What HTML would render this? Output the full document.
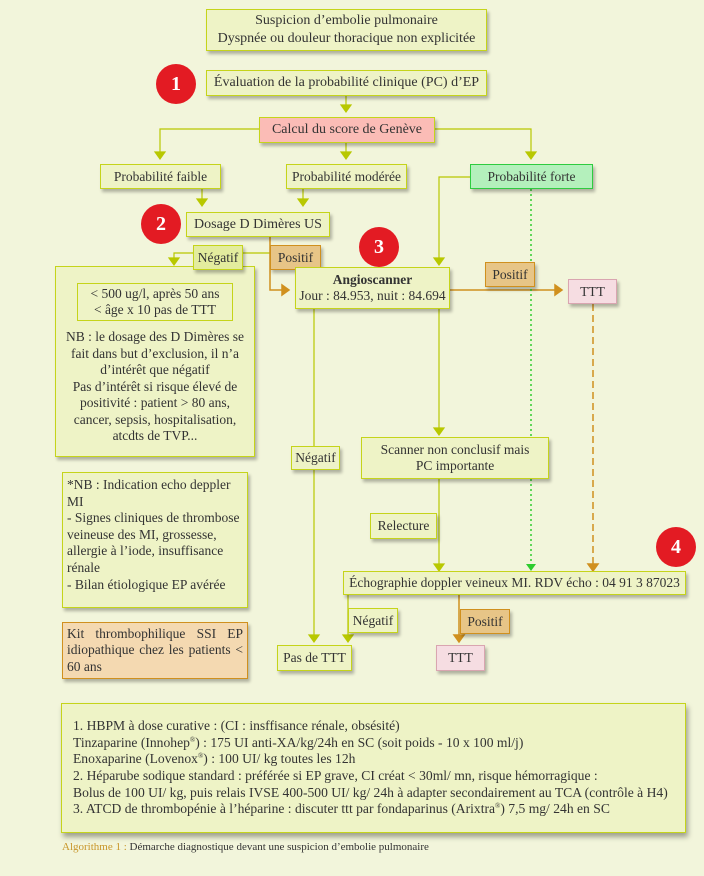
<!DOCTYPE html>
<html><head><meta charset="utf-8"><style>
body{margin:0;width:704px;height:876px;background:#f2f5db;font-family:"Liberation Serif",serif;color:#333;position:relative;overflow:hidden}
.b{position:absolute;box-sizing:border-box;background:#eef3c6;border:1.5px solid #c5d41a;box-shadow:2px 3px 3px rgba(0,0,0,.28);font-size:13.5px;line-height:16px;text-align:center;display:flex;flex-direction:column;justify-content:center;align-items:center}
.o{background:#e7c587;border-color:#d0901e}
.p{background:#f6dde2;border-color:#d9a5b0}
.c{position:absolute;width:40px;height:40px;border-radius:50%;background:#e31b23;color:#fff;font-weight:bold;font-size:20px;text-align:center;line-height:40px}
svg{position:absolute;left:0;top:0}
sup{font-size:7px;line-height:0;vertical-align:5px}
</style></head><body>
<svg width="704" height="876">
<g stroke="#b8c800" stroke-width="1.2" fill="none">
<path d="M346 96V106"/><path d="M341 105h10l-5 7z" fill="#b8c800"/>
<path d="M259 129H160V153"/><path d="M155 152h10l-5 7z" fill="#b8c800"/>
<path d="M435 129H531V153"/><path d="M526 152h10l-5 7z" fill="#b8c800"/>
<path d="M346 143V153"/><path d="M341 152h10l-5 7z" fill="#b8c800"/>
<path d="M202 189V200"/><path d="M197 199h10l-5 7z" fill="#b8c800"/>
<path d="M303 189V200"/><path d="M298 199h10l-5 7z" fill="#b8c800"/>
<path d="M242 253H270"/>
<path d="M193 253H174V259"/><path d="M169 258h10l-5 7z" fill="#b8c800"/>
<path d="M470 177H439V259"/><path d="M434 258h10l-5 7z" fill="#b8c800"/>
<path d="M314 309V636"/><path d="M309 635h10l-5 7z" fill="#b8c800"/>
<path d="M439 309V429"/><path d="M434 428h10l-5 7z" fill="#b8c800"/>
<path d="M439 479V565"/><path d="M434 564h10l-5 7z" fill="#b8c800"/>
<path d="M348 595V636"/><path d="M343 635h10l-5 7z" fill="#b8c800"/>
</g>
<g stroke="#d0901e" stroke-width="1.5" fill="none">
<path d="M270 237V290H283"/><path d="M282 285v10l7-5z" fill="#d0901e"/>
<path d="M450 290H556"/><path d="M555 285v10l7-5z" fill="#d0901e"/>
<path d="M593 304V565" stroke-dasharray="7,4"/><path d="M588 564h10l-5 7z" fill="#d0901e"/>
<path d="M459 595V636"/><path d="M454 635h10l-5 7z" fill="#d0901e"/>
</g>
<path d="M531 189V565" stroke="#2ecc2e" stroke-width="1.5" stroke-dasharray="2,3"/>
<path d="M526 564h10l-5 7z" fill="#2ecc2e"/>
</svg>
<div class="b" style="left:206px;top:9px;width:281px;height:42px;font-size:14px;line-height:18px">Suspicion d’embolie pulmonaire<br>Dyspnée ou douleur thoracique non explicitée</div>
<div class="c" style="left:156px;top:64px">1</div>
<div class="b" style="left:206px;top:70px;width:281px;height:26px;font-size:14px">Évaluation de la probabilité clinique (PC) d’EP</div>
<div class="b" style="left:259px;top:117px;width:176px;height:26px;font-size:14px;background:#fbbcb6">Calcul du score de Genève</div>
<div class="b" style="left:100px;top:164px;width:121px;height:25px">Probabilité faible</div>
<div class="b" style="left:286px;top:164px;width:121px;height:25px">Probabilité modérée</div>
<div class="b" style="left:470px;top:164px;width:123px;height:25px;background:#b4f0bc;border-color:#2ecc40">Probabilité forte</div>
<div class="c" style="left:141px;top:204px">2</div>
<div class="b" style="left:186px;top:212px;width:144px;height:25px;font-size:14px">Dosage D Dimères US</div>
<div class="c" style="left:359px;top:227px">3</div>
<div class="b" style="left:55px;top:266px;width:200px;height:191px;justify-content:flex-start;padding-top:16px">
<div style="border:1.5px solid #c5d41a;width:156px;box-sizing:border-box;padding:2px 0;margin-bottom:8px;line-height:16px">&lt; 500 ug/l, après 50 ans<br>&lt; âge x 10 pas de TTT</div>
<div style="padding:0 9px;line-height:16.5px">NB : le dosage des D Dimères se fait dans but d’exclusion, il n’a d’intérêt que négatif<br>Pas d’intérêt si risque élevé de positivité : patient &gt; 80 ans, cancer, sepsis, hospitalisation, atcdts de TVP...</div></div>
<div class="b" style="left:193px;top:245px;width:50px;height:25px;background:#e3ec9e">Négatif</div>
<div class="b o" style="left:270px;top:245px;width:51px;height:25px">Positif</div>
<div class="b" style="left:295px;top:267px;width:155px;height:42px"><b>Angioscanner</b>Jour : 84.953, nuit : 84.694</div>
<div class="b o" style="left:485px;top:262px;width:50px;height:25px">Positif</div>
<div class="b p" style="left:568px;top:279px;width:49px;height:25px">TTT</div>
<div class="b" style="left:291px;top:446px;width:49px;height:24px">Négatif</div>
<div class="b" style="left:361px;top:437px;width:188px;height:42px">Scanner non conclusif mais<br>PC importante</div>
<div class="b" style="left:370px;top:513px;width:67px;height:26px">Relecture</div>
<div class="c" style="left:656px;top:527px">4</div>
<div class="b" style="left:343px;top:571px;width:343px;height:24px">Échographie doppler veineux MI. RDV écho : 04 91 3 87023</div>
<div class="b" style="left:348px;top:608px;width:50px;height:25px">Négatif</div>
<div class="b o" style="left:460px;top:609px;width:50px;height:25px">Positif</div>
<div class="b" style="left:277px;top:645px;width:75px;height:26px">Pas de TTT</div>
<div class="b p" style="left:436px;top:645px;width:49px;height:26px">TTT</div>
<div class="b" style="left:62px;top:472px;width:186px;height:136px;text-align:left;align-items:flex-start;justify-content:flex-start;padding:4px 2px 4px 4px;line-height:16.6px;white-space:nowrap">*NB : Indication echo deppler<br>MI<br>- Signes cliniques de thrombose<br>veineuse des MI, grossesse,<br>allergie à l’iode, insuffisance<br>rénale<br>- Bilan étiologique EP avérée</div>
<div class="b" style="left:62px;top:622px;width:186px;height:57px;background:#f4d9b1;border-color:#d0901e;text-align:justify;text-align-last:left;align-items:stretch;padding:1px 4px;line-height:16.5px"><div>Kit thrombophilique SSI EP idiopathique chez les patients &lt; 60 ans</div></div>
<div class="b" style="left:61px;top:703px;width:625px;height:130px;text-align:left;align-items:flex-start;padding-left:11px;font-size:13.6px;line-height:16.7px;box-shadow:2px 4px 5px rgba(0,0,0,.35);white-space:nowrap">
<div>1. HBPM à dose curative : (CI : insffisance rénale, obsésité)<br>Tinzaparine (Innohep<sup>®</sup>) : 175 UI anti-XA/kg/24h en SC (soit poids - 10 x 100 ml/j)<br>Enoxaparine (Lovenox<sup>®</sup>) : 100 UI/ kg toutes les 12h<br>2. Héparube sodique standard : préférée si EP grave, CI créat &lt; 30ml/ mn, risque hémorragique :<br>Bolus de 100 UI/ kg, puis relais IVSE 400-500 UI/ kg/ 24h à adapter secondairement au TCA (contrôle à H4)<br>3. ATCD de thrombopénie à l’héparine : discuter ttt par fondaparinus (Arixtra<sup>®</sup>) 7,5 mg/ 24h en SC</div></div>
<div style="position:absolute;left:62px;top:841px;font-size:11px"><span style="color:#c8962a">Algorithme 1 :</span> Démarche diagnostique devant une suspicion d’embolie pulmonaire</div>
</body></html>
